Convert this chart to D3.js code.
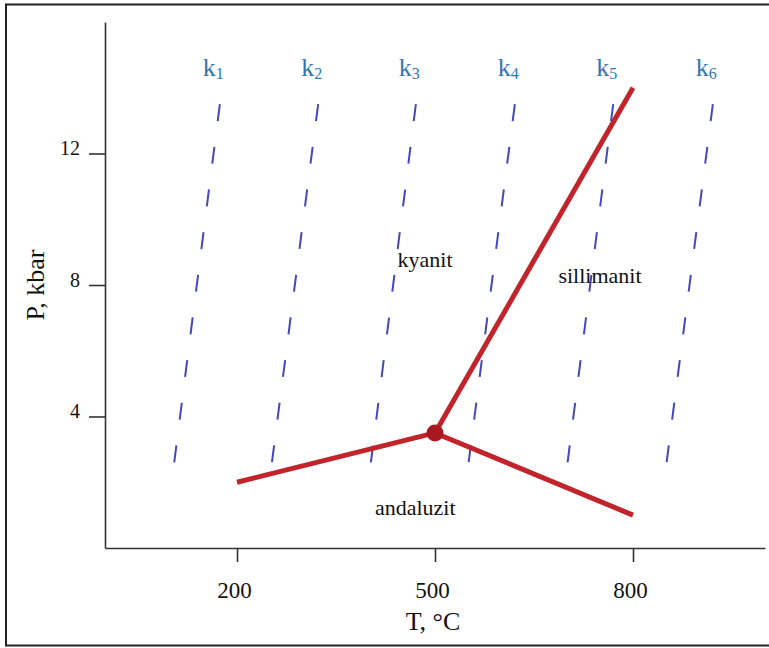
<!DOCTYPE html>
<html>
<head>
<meta charset="utf-8">
<script src="https://cdn.jsdelivr.net/npm/d3@7"></script>
<style>
  body { margin: 0; background: #fff; }
  svg { display: block; font-family: "Liberation Serif", "DejaVu Serif", serif; }
</style>
</head>
<body>
<div id="chart"></div>
<script>
// Al2SiO5 phase diagram (P-T)

var svgWidth = 769;
var svgHeight = 648;

// tick values
var tTicks = [200, 500, 800];
var pTicks = [4, 8, 12];

// phase boundaries, [T, P]
var andKyBoundary = [[200, 2], [500, 3.5]];
var andSilBoundary = [[500, 3.5], [800, 1]];
var kySilBoundary = [[500, 3.5], [800, 14]];
var triplePoint = [500, 3.5];

// k isolines: top and bottom end points
var kNames = ["1", "2", "3", "4", "5", "6"];
var kTopT = [174, 323, 471, 621, 770, 921];
var kBottomT = [102, 250, 400, 548, 698, 848];
var kTopP = 13.5;
var kBottomP = 2.15;

// region names
var regionNames = ["kyanit", "sillimanit", "andaluzit"];
var regionT = [485, 750, 470];
var regionP = [8.55, 8.05, 1.0];

var x = d3.scaleLinear().domain([0, 1000]).range([105, 765]);
var y = d3.scaleLinear().domain([0, 16]).range([548, 22]);

var svg = d3.select("#chart")
  .append("svg")
  .attr("width", svgWidth)
  .attr("height", svgHeight);

// frame
svg.append("rect")
  .attr("x", 6).attr("y", 4.5)
  .attr("width", 770).attr("height", 641)
  .attr("fill", "none")
  .attr("stroke", "#222")
  .attr("stroke-width", 2);

// axes
var xAxis = svg.append("g")
  .attr("transform", "translate(0," + y(0) + ")")
  .call(d3.axisBottom(x).tickValues(tTicks).tickSize(14).tickSizeOuter(0).tickPadding(20));
var yAxis = svg.append("g")
  .attr("transform", "translate(" + x(0) + ",0)")
  .call(d3.axisLeft(y).tickValues(pTicks).tickSize(16).tickSizeOuter(0).tickPadding(9));

[xAxis, yAxis].forEach(function (g) {
  g.attr("font-family", null).attr("font-size", null);
  g.select(".domain").attr("stroke", "#333").attr("stroke-width", 1.6);
  g.selectAll(".tick line").attr("stroke", "#333").attr("stroke-width", 1.6);
  g.selectAll(".tick text")
    .style("font-family", "'Liberation Serif', serif")
    .attr("fill", "#111");
});
xAxis.selectAll(".tick text").style("font-size", "23px").attr("dx", "-3");
yAxis.selectAll(".tick text").style("font-size", "20px").attr("dy", "0.07em");

// axis titles
svg.append("text")
  .attr("x", x(500) - 2).attr("y", 630)
  .attr("text-anchor", "middle")
  .attr("font-size", 26)
  .attr("fill", "#111")
  .text("T, °C");

svg.append("text")
  .attr("transform", "translate(44," + y(8) + ") rotate(-90)")
  .attr("text-anchor", "middle")
  .attr("font-size", 26)
  .attr("fill", "#111")
  .text("P, kbar");

// k isolines (dashed)
var kLines = kNames.map(function (k, i) {
  return { name: k, top: [kTopT[i], kTopP], bottom: [kBottomT[i], kBottomP] };
});

svg.append("g").selectAll("line")
  .data(kLines)
  .enter()
  .append("line")
  .attr("x1", function (d) { return x(d.top[0]); })
  .attr("y1", function (d) { return y(d.top[1]); })
  .attr("x2", function (d) { return x(d.bottom[0]); })
  .attr("y2", function (d) { return y(d.bottom[1]); })
  .attr("stroke", "#4447bd")
  .attr("stroke-width", 2)
  .attr("stroke-dasharray", "17 26");

var kText = svg.append("g").selectAll("text")
  .data(kLines)
  .enter()
  .append("text")
  .attr("x", function (d) { return x(d.top[0]) - 17; })
  .attr("y", 76)
  .attr("font-size", 26)
  .attr("fill", "#2e77b4");
kText.append("tspan").text("k");
kText.append("tspan")
  .attr("font-size", 16)
  .attr("dy", 3)
  .text(function (d) { return d.name; });

// phase boundaries
var line = d3.line()
  .x(function (d) { return x(d[0]); })
  .y(function (d) { return y(d[1]); });

svg.append("g").selectAll("path")
  .data([andKyBoundary, andSilBoundary, kySilBoundary])
  .enter()
  .append("path")
  .attr("d", line)
  .attr("fill", "none")
  .attr("stroke", "#c1242b")
  .attr("stroke-width", 5)
  .attr("stroke-linecap", "butt");

svg.append("circle")
  .attr("cx", x(triplePoint[0]))
  .attr("cy", y(triplePoint[1]))
  .attr("r", 8.5)
  .attr("fill", "#a8181f");

// region labels
svg.append("g").selectAll("text")
  .data(regionNames)
  .enter()
  .append("text")
  .attr("x", function (d, i) { return x(regionT[i]); })
  .attr("y", function (d, i) { return y(regionP[i]); })
  .attr("text-anchor", "middle")
  .attr("font-size", 22)
  .attr("fill", "#111")
  .text(function (d) { return d; });
</script>
</body>
</html>
